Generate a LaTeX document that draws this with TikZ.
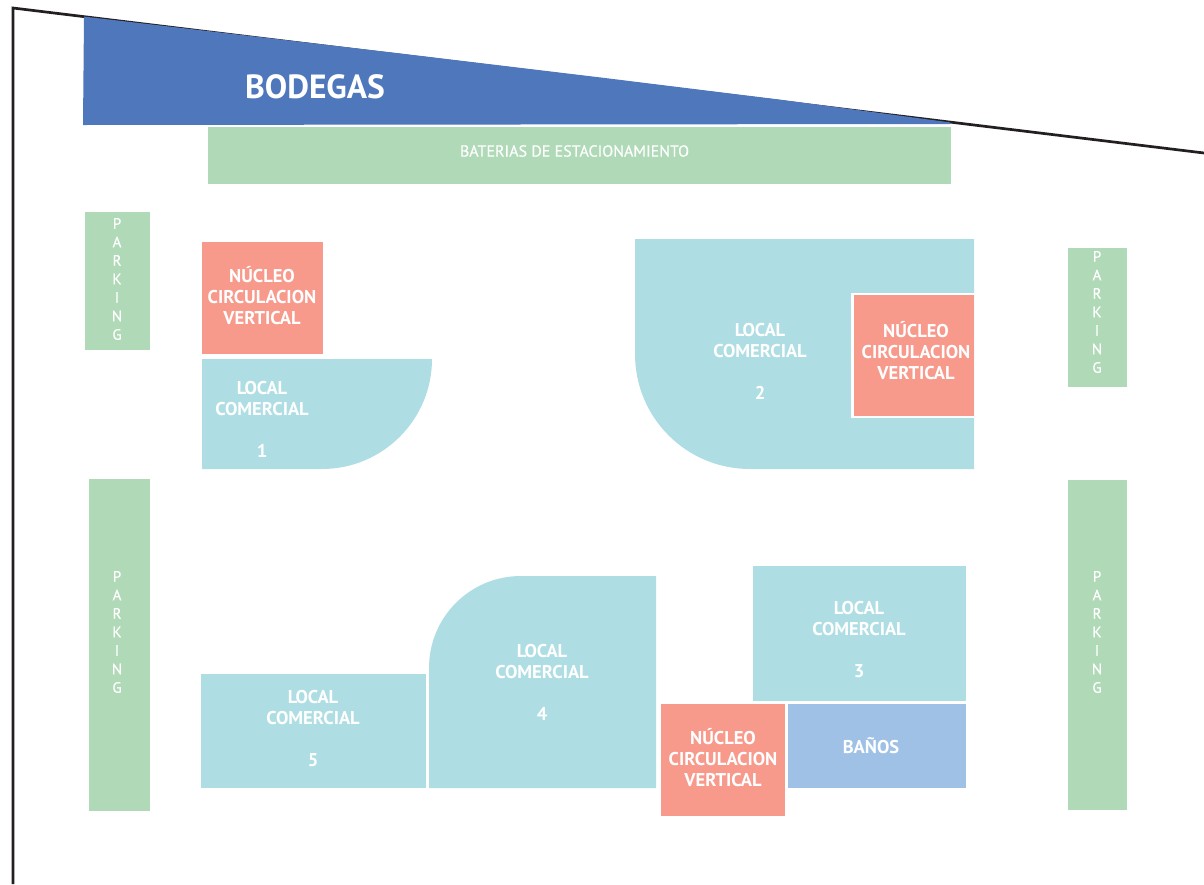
\documentclass[tikz,border=0pt]{standalone}
\usepackage{fontspec}
\setmainfont{PT Sans}
\newfontfamily\medfont[FakeBold=0.4]{PT Sans}
\definecolor{bluedeep}{HTML}{4F77BC}
\definecolor{parkgreen}{HTML}{B0DAB7}
\definecolor{corered}{HTML}{F79A8C}
\definecolor{localteal}{HTML}{AEDEE3}
\definecolor{bathblue}{HTML}{9FC1E6}
\definecolor{wallink}{HTML}{231F20}
\tikzset{
  parkzone/.style={fill=parkgreen},
  corezone/.style={fill=corered},
  localzone/.style={fill=localteal},
  bathzone/.style={fill=bathblue},
  labelbold/.style={text=white,inner sep=0pt,align=center,font=\fontsize{18.5}{21}\selectfont\bfseries},
  labelpark/.style={text=white,inner sep=0pt,align=center,font=\medfont\fontsize{15}{18.5}\selectfont},
}
\newcommand{\corelabel}{NÚCLEO\\CIRCULACION\\VERTICAL}
\newcommand{\parklabel}{P\\A\\R\\K\\I\\N\\G}
\begin{document}
\begin{tikzpicture}[x=1pt,y=-1pt]
\useasboundingbox (0,0) rectangle (1204,884);
% outline
\draw[wallink,line width=2.7pt,line join=miter] (13,884) -- (13,8) -- (1204,153);
% bodegas
\fill[bluedeep] (84,16.6) -- (400,53.4) -- (600,77.4) -- (780,99.6) -- (950,122.4) -- (950,124) -- (83,125) -- cycle;
% green zones
\fill[parkzone] (208,127) rectangle (951,184);
\fill[parkzone] (85,212) rectangle (150,350);
\fill[parkzone] (89,479) rectangle (150,811);
\fill[parkzone] (1068,248) rectangle (1127,387);
\fill[parkzone] (1068,480) rectangle (1127,810);
% locals
\fill[localzone] (202,359) -- (432,359) arc[start angle=0,end angle=90,radius=110] -- (202,469) -- cycle;
\fill[localzone] (635,239) -- (974,239) -- (974,469) -- (750,469) .. controls (686.5,469) and (635,418) .. (635,354) -- cycle;
\fill[localzone] (656,576) -- (656,788) -- (429,788) -- (429,668) .. controls (429,617) and (470,576) .. (521,576) -- cycle;
\fill[localzone] (752.5,566) rectangle (966,701);
\fill[localzone] (201,674) rectangle (426,788);
\fill[bathzone] (788,704) rectangle (966,788);
% cores
\fill[corezone] (202,242) rectangle (323,354);
\fill[white] (851,292.5) rectangle (974,418);
\fill[corezone] (853.5,295) rectangle (974,416);
\fill[corezone] (661,704) rectangle (785,816);
% labels
\node[text=white,inner sep=0pt,font=\fontsize{33.5}{36}\selectfont\bfseries] (bod) at (315,87) {BODEGAS};
\node[text=white,inner sep=0pt,font=\medfont\fontsize{16}{18}\selectfont] (bat) at (574.5,151) {BATERIAS DE ESTACIONAMIENTO};
\node[labelpark] (p1) at (117,279) {\parklabel};
\node[labelpark] (p2) at (117,632) {\parklabel};
\node[labelpark] (p3) at (1097,312) {\parklabel};
\node[labelpark] (p4) at (1097,632) {\parklabel};
\node[labelbold] (c1) at (262,295.6) {\corelabel};
\node[labelbold] (c2) at (916,350.6) {\corelabel};
\node[labelbold] (c3) at (723,757.6) {\corelabel};
\node[labelbold] (l1) at (262,398.7) {LOCAL\\COMERCIAL};
\node[labelbold] (n1) at (262,451) {1};
\node[labelbold] (l2) at (760,340.7) {LOCAL\\COMERCIAL};
\node[labelbold] (n2) at (760,393) {2};
\node[labelbold] (l3) at (859,618.7) {LOCAL\\COMERCIAL};
\node[labelbold] (n3) at (859,671) {3};
\node[labelbold] (l4) at (542,661.7) {LOCAL\\COMERCIAL};
\node[labelbold] (n4) at (542,714) {4};
\node[labelbold] (l5) at (313,707.7) {LOCAL\\COMERCIAL};
\node[labelbold] (n5) at (313,760) {5};
\node[labelbold] (ba) at (871,746) {BAÑOS};
\end{tikzpicture}
\end{document}
